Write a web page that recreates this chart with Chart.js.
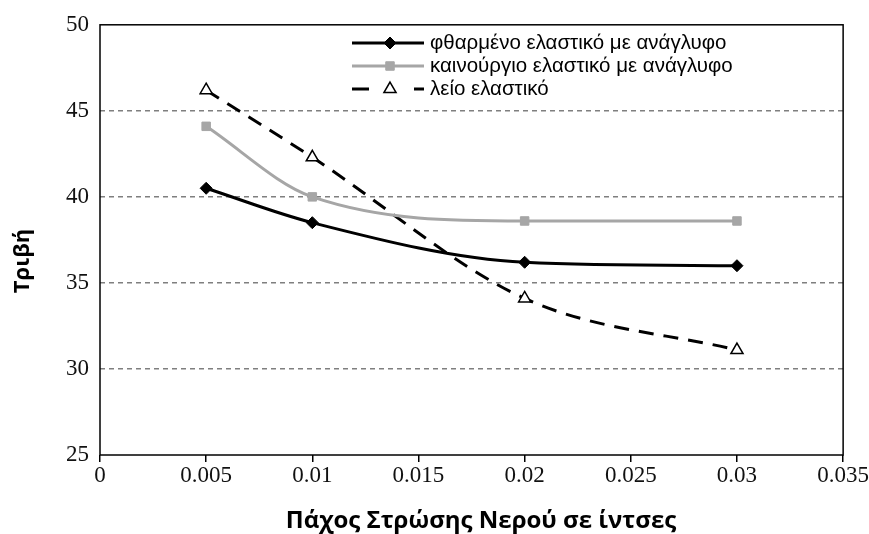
<!DOCTYPE html>
<html lang="el">
<head>
    <meta charset="UTF-8">
    <title>Τριβή - Πάχος Στρώσης Νερού</title>
    <script src="https://cdn.jsdelivr.net/npm/chart.js"></script>
    <style>
        html, body { margin: 0; padding: 0; background: #fff; }
        #wrap { width: 869px; height: 534px; }
    </style>
</head>
<body>
    <div id="wrap"><canvas id="chart" width="869" height="534"></canvas></div>

    <script>
        // Δεδομένα
        const xValues = [0.005, 0.01, 0.02, 0.03];
        const wornTread = [40.5, 38.5, 36.2, 36.0];
        const newTread = [44.1, 40.0, 38.6, 38.6];
        const smoothTire = [46.2, 42.3, 34.1, 31.1];
        const seriesNames = ['φθαρμένο ελαστικό με ανάγλυφο', 'καινούργιο ελαστικό με ανάγλυφο', 'λείο ελαστικό'];
        const yTicks = [25, 30, 35, 40, 45, 50];
        const xTicks = [0, 0.005, 0.01, 0.015, 0.02, 0.025, 0.03, 0.035];
        const xTitle = 'Πάχος Στρώσης Νερού σε ίντσες';
        const yTitle = 'Τριβή';

        const toPoints = arr => arr.map((v, i) => ({ x: xValues[i], y: v }));
        const titleFamily = '"Open Sans", "Liberation Sans", Arial, sans-serif';

        // πλαίσιο + τίτλοι αξόνων
        const frame = {
            id: 'frame',
            afterDatasetsDraw(chart) {
                const { ctx, chartArea: a } = chart;
                ctx.save();
                ctx.strokeStyle = '#000';
                ctx.lineWidth = 1.5;
                ctx.strokeRect(a.left, a.top, a.right - a.left, a.bottom - a.top);
                ctx.fillStyle = '#000';
                ctx.font = 'bold 24px ' + titleFamily;
                ctx.textAlign = 'center';
                ctx.textBaseline = 'alphabetic';
                ctx.fillText(xTitle, 481, 528);
                ctx.font = 'bold 22px ' + titleFamily;
                ctx.translate(23, 261);
                ctx.rotate(-Math.PI / 2);
                ctx.textBaseline = 'middle';
                ctx.fillText(yTitle, 0, 0);
                ctx.restore();
            }
        };

        // υπόμνημα με γραμμή + σημάδι
        const legendBox = {
            id: 'legendBox',
            afterDraw(chart) {
                const ctx = chart.ctx;
                const x0 = 352, x1 = 424, mid = 390, rows = [43, 66, 89];
                chart.data.datasets.forEach((ds, i) => {
                    const y = rows[i];
                    ctx.save();
                    ctx.strokeStyle = ds.borderColor;
                    ctx.lineWidth = ds.borderWidth;
                    ctx.beginPath();
                    if (ds.borderDash) {
                        ctx.moveTo(x0, y); ctx.lineTo(x0 + 17, y);
                        ctx.moveTo(x1 - 10, y); ctx.lineTo(x1, y);
                    } else {
                        ctx.moveTo(x0, y); ctx.lineTo(x1, y);
                    }
                    ctx.stroke();
                    ctx.fillStyle = ds.pointBackgroundColor;
                    ctx.strokeStyle = ds.pointBorderColor;
                    ctx.lineWidth = ds.pointBorderWidth;
                    Chart.helpers.drawPoint(ctx, {
                        pointStyle: ds.pointStyle,
                        rotation: 0,
                        radius: ds.pointRadius,
                        borderWidth: ds.pointBorderWidth
                    }, mid, y);
                    ctx.fillStyle = '#000';
                    ctx.font = '20.5px "Liberation Sans", Arial, sans-serif';
                    ctx.textBaseline = 'middle';
                    ctx.textAlign = 'left';
                    ctx.fillText(ds.label, 430, y);
                    ctx.restore();
                });
            }
        };

        const tickFont = { family: '"Liberation Serif", "Times New Roman", serif', size: 23 };

        new Chart(document.getElementById('chart'), {
            type: 'line',
            data: {
                datasets: [{
                    label: seriesNames[0],
                    data: toPoints(wornTread),
                    borderColor: '#000',
                    borderWidth: 3,
                    pointStyle: 'rectRot',
                    pointRadius: 6,
                    pointBackgroundColor: '#000',
                    pointBorderColor: '#000',
                    pointBorderWidth: 1,
                    cubicInterpolationMode: 'monotone'
                }, {
                    label: seriesNames[1],
                    data: toPoints(newTread),
                    borderColor: '#a6a6a6',
                    borderWidth: 3,
                    pointStyle: 'rect',
                    pointRadius: 6,
                    pointBackgroundColor: '#a6a6a6',
                    pointBorderColor: '#a6a6a6',
                    pointBorderWidth: 1,
                    cubicInterpolationMode: 'monotone'
                }, {
                    label: seriesNames[2],
                    data: toPoints(smoothTire),
                    borderColor: '#000',
                    borderWidth: 3,
                    borderDash: [15, 10],
                    pointStyle: 'triangle',
                    pointRadius: 7,
                    pointBackgroundColor: '#fff',
                    pointBorderColor: '#000',
                    pointBorderWidth: 1.5,
                    cubicInterpolationMode: 'monotone'
                }]
            },
            options: {
                responsive: false,
                animation: false,
                layout: { padding: { top: 19, right: 24, left: 0, bottom: 0 } },
                plugins: {
                    legend: { display: false },
                    tooltip: { enabled: false }
                },
                scales: {
                    x: {
                        type: 'linear',
                        min: 0,
                        max: 0.035,
                        afterBuildTicks: s => { s.ticks = xTicks.map(v => ({ value: v })); },
                        afterFit: s => { s.height = 79; },
                        border: { display: false },
                        grid: {
                            drawOnChartArea: false,
                            drawTicks: true,
                            tickLength: 7,
                            color: '#000',
                            lineWidth: 1.5
                        },
                        ticks: {
                            color: '#111',
                            padding: 0,
                            maxRotation: 0,
                            font: tickFont,
                            callback: v => String(v)
                        }
                    },
                    y: {
                        min: 25,
                        max: 50,
                        afterBuildTicks: s => { s.ticks = yTicks.map(v => ({ value: v })); },
                        afterFit: s => { s.width = 100; },
                        border: { display: false, dash: [5, 4] },
                        grid: {
                            drawTicks: false,
                            color: c => (c.tick && (c.tick.value === 25 || c.tick.value === 50)) ? 'rgba(0,0,0,0)' : '#7f7f7f',
                            lineWidth: 1.5
                        },
                        ticks: {
                            color: '#111',
                            padding: 11,
                            font: tickFont
                        }
                    }
                }
            },
            plugins: [frame, legendBox]
        });
    </script>
</body>
</html>
